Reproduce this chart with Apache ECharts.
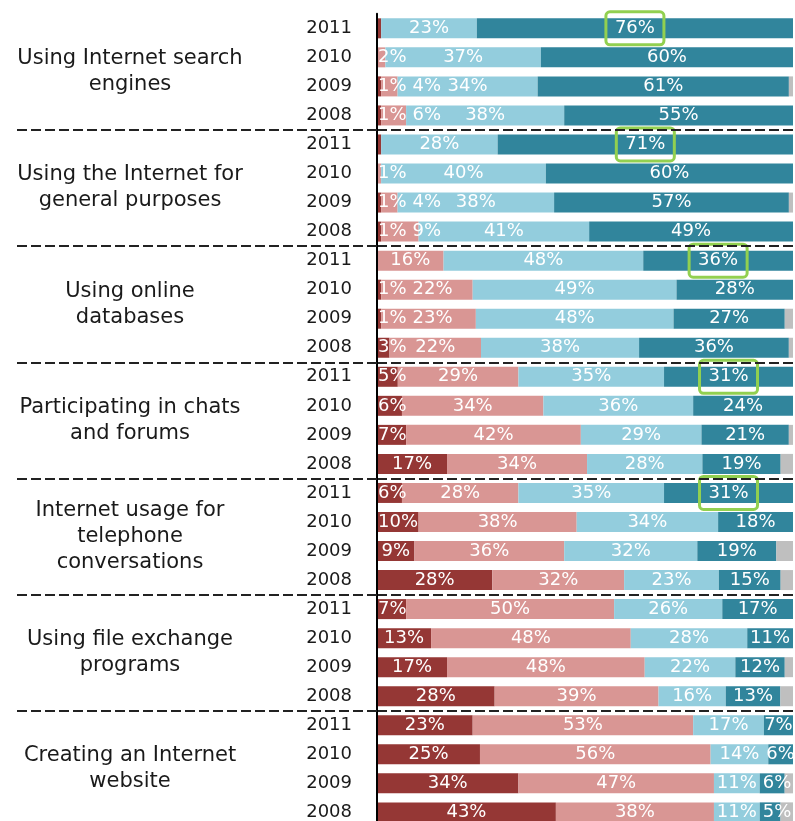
<!DOCTYPE html>
<html>
<head>
<meta charset="utf-8">
<script src="https://cdn.jsdelivr.net/npm/echarts@6/dist/echarts.min.js"></script>
<style>
html,body{margin:0;padding:0;background:#fff;}
#chart{width:795px;height:821px;}
</style>
</head>
<body>
<div id="chart"></div>
<script>
// ---- data ----
const groups = [
  'Using Internet search\nengines',
  'Using the Internet for\ngeneral purposes',
  'Using online\ndatabases',
  'Participating in chats\nand forums',
  'Internet usage for\ntelephone\nconversations',
  'Using file exchange\nprograms',
  'Creating an Internet\nwebsite'
];
const years = ['2011', '2010', '2009', '2008'];

// rows: group by group, years 2011..2008
const darkRed   = [1,0,1,1,  1,0,1,1,  0,1,1,3,  5,6,7,17,  6,10,9,28,  7,13,17,28,  23,25,34,43];
const pink      = [0,2,4,6,  0,1,4,9,  16,22,23,22,  29,34,42,34,  28,38,36,32,  50,48,48,39,  53,56,47,38];
const lightBlue = [23,37,34,38,  28,40,38,41,  48,49,48,38,  35,36,29,28,  35,34,32,23,  26,28,22,16,  17,14,11,11];
const teal      = [76,60,61,55,  71,60,57,49,  36,28,27,36,  31,24,21,19,  31,18,19,15,  17,11,12,13,  7,6,6,5];
const gray      = [0,0,1,0,  0,0,1,0,  0,0,2,1,  0,0,1,3,  0,0,4,3,  0,0,2,3,  0,0,2,3];

const seriesNames = ['Category 1', 'Category 2', 'Category 3', 'Category 4', 'No answer'];
const seriesValues = [darkRed, pink, lightBlue, teal, gray];
const unlabeled = [[0, 0], [0, 4]];          // [series, row] whose labels are not shown
const highlightedRows = [0, 4, 8, 12, 16];   // teal labels framed in green

// ---- style ----
const colors = ['#953735', '#d99694', '#93cddd', '#31859c', '#bfbfbf'];
const FONT = 'DejaVu Sans';
const GRID_LEFT = 377;

const rowCount = darkRed.length;
const rowKeys = [];
for (let i = 0; i < rowCount; i++) rowKeys.push('r' + i);
const rowSums = rowKeys.map((_, r) => seriesValues.reduce((s, arr) => s + arr[r], 0));

function isHidden(s, r) {
  if (s === 4) return true;
  if (seriesValues[s][r] === 0) return true;
  return unlabeled.some(u => u[0] === s && u[1] === r);
}

// simple left-to-right overlap avoidance per row
const rowState = {};
function shiftLabels(p) {
  const r = p.dataIndex, s = p.seriesIndex;
  if (isHidden(s, r)) return {};
  let st = rowState[r];
  if (!st || s <= st.series) st = rowState[r] = {series: -1, right: 0};
  const lr = p.labelRect;
  const minLeft = st.series < 0 ? GRID_LEFT + 1 : st.right + 6;
  const dx = Math.max(0, minLeft - lr.x);
  st.series = s;
  st.right = lr.x + dx + lr.width;
  return dx ? {dx: dx} : {};
}

const sepInterval = (index) => index > 0 && index % 4 === 0;
const dashStyle = {color: '#222222', width: 2, type: [10, 4]};

const series = seriesValues.map((vals, s) => ({
  name: seriesNames[s],
  type: 'bar',
  stack: 'total',
  barWidth: 20,
  itemStyle: {color: colors[s]},
  label: {
    show: s !== 4,
    position: 'inside',
    color: '#ffffff',
    fontFamily: FONT,
    fontSize: 18,
    formatter: (p) => seriesValues[p.seriesIndex][p.dataIndex] + '%'
  },
  labelLayout: shiftLabels,
  data: vals.map((v, r) => {
    const item = {value: v / rowSums[r] * 100};
    if (isHidden(s, r)) item.label = {show: false};
    if (s === 3 && highlightedRows.indexOf(r) >= 0) {
      item.label = {
        borderColor: '#92d050', borderWidth: 3, borderRadius: 4,
        padding: [8, 9, 7, 9]
      };
    }
    return item;
  })
}));

const chart = echarts.init(document.getElementById('chart'));
chart.setOption({
  animation: false,
  backgroundColor: '#ffffff',
  grid: {left: GRID_LEFT, right: 2, top: 13.8, height: 813.1, outerBoundsMode: 'none', containLabel: false},
  xAxis: {type: 'value', min: 0, max: 100, show: false},
  yAxis: [
    {
      type: 'category',
      inverse: true,
      data: rowKeys,
      z: 5,
      axisLine: {show: true, lineStyle: {color: '#000', width: 2}},
      axisTick: {show: true, length: 364, interval: sepInterval, lineStyle: dashStyle},
      splitLine: {show: true, interval: sepInterval, lineStyle: dashStyle},
      axisLabel: {
        interval: 0, margin: 25, color: '#1a1a1a',
        fontFamily: FONT, fontSize: 18,
        formatter: (v, i) => years[i % years.length]
      }
    },
    {
      type: 'category',
      inverse: true,
      position: 'left',
      data: groups,
      axisLine: {show: false},
      axisTick: {show: false},
      splitLine: {show: false},
      axisLabel: {
        interval: 0, margin: 247, align: 'center', color: '#1a1a1a',
        fontFamily: FONT, fontSize: 21, lineHeight: 26
      }
    }
  ],
  series: series
});
</script>
</body>
</html>
